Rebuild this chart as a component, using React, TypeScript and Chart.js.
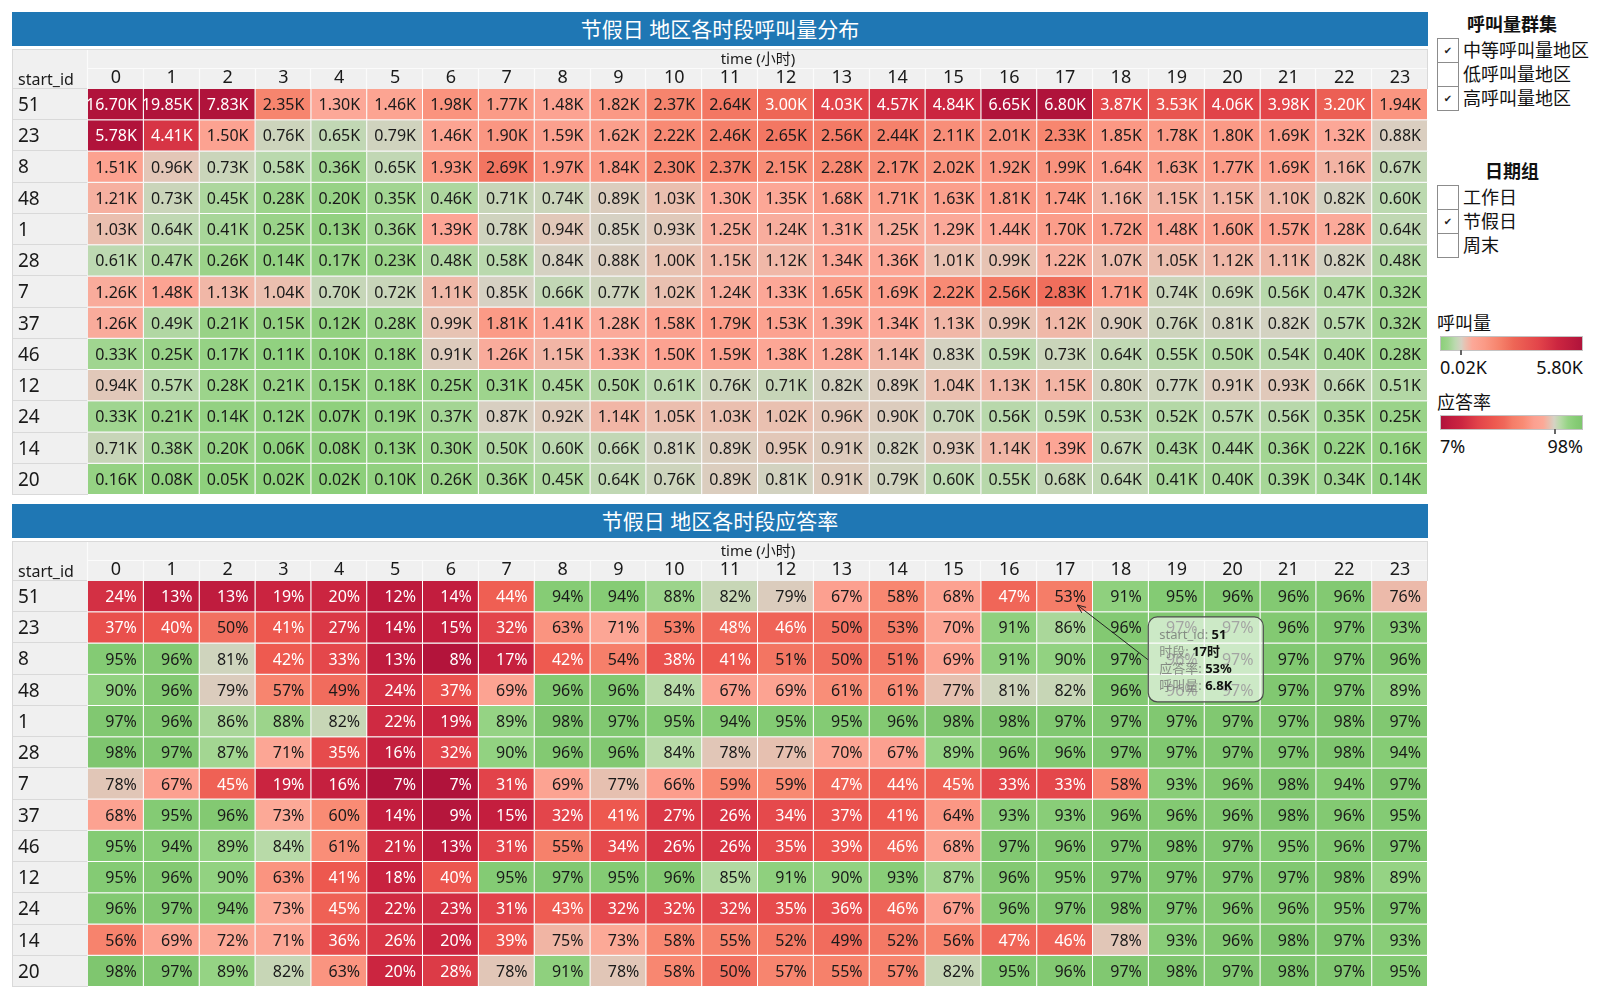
import React, { useEffect, useRef } from 'react';
import { Chart, registerables } from 'chart.js';

Chart.register(...registerables);

const FONT = "'Noto Sans', 'Noto Sans CJK SC', sans-serif";
Chart.defaults.font.family = FONT;

// ---------------- data ----------------
const rowIds = ['51', '23', '8', '48', '1', '28', '7', '37', '46', '12', '24', '14', '20'];
const hours = ['0', '1', '2', '3', '4', '5', '6', '7', '8', '9', '10', '11', '12', '13', '14', '15', '16', '17', '18', '19', '20', '21', '22', '23'];

// 呼叫量 (K)
const callVolumeK = [
  [16.70, 19.85, 7.83, 2.35, 1.30, 1.46, 1.98, 1.77, 1.48, 1.82, 2.37, 2.64, 3.00, 4.03, 4.57, 4.84, 6.65, 6.80, 3.87, 3.53, 4.06, 3.98, 3.20, 1.94],
  [5.78, 4.41, 1.50, 0.76, 0.65, 0.79, 1.46, 1.90, 1.59, 1.62, 2.22, 2.46, 2.65, 2.56, 2.44, 2.11, 2.01, 2.33, 1.85, 1.78, 1.80, 1.69, 1.32, 0.88],
  [1.51, 0.96, 0.73, 0.58, 0.36, 0.65, 1.93, 2.69, 1.97, 1.84, 2.30, 2.37, 2.15, 2.28, 2.17, 2.02, 1.92, 1.99, 1.64, 1.63, 1.77, 1.69, 1.16, 0.67],
  [1.21, 0.73, 0.45, 0.28, 0.20, 0.35, 0.46, 0.71, 0.74, 0.89, 1.03, 1.30, 1.35, 1.68, 1.71, 1.63, 1.81, 1.74, 1.16, 1.15, 1.15, 1.10, 0.82, 0.60],
  [1.03, 0.64, 0.41, 0.25, 0.13, 0.36, 1.39, 0.78, 0.94, 0.85, 0.93, 1.25, 1.24, 1.31, 1.25, 1.29, 1.44, 1.70, 1.72, 1.48, 1.60, 1.57, 1.28, 0.64],
  [0.61, 0.47, 0.26, 0.14, 0.17, 0.23, 0.48, 0.58, 0.84, 0.88, 1.00, 1.15, 1.12, 1.34, 1.36, 1.01, 0.99, 1.22, 1.07, 1.05, 1.12, 1.11, 0.82, 0.48],
  [1.26, 1.48, 1.13, 1.04, 0.70, 0.72, 1.11, 0.85, 0.66, 0.77, 1.02, 1.24, 1.33, 1.65, 1.69, 2.22, 2.56, 2.83, 1.71, 0.74, 0.69, 0.56, 0.47, 0.32],
  [1.26, 0.49, 0.21, 0.15, 0.12, 0.28, 0.99, 1.81, 1.41, 1.28, 1.58, 1.79, 1.53, 1.39, 1.34, 1.13, 0.99, 1.12, 0.90, 0.76, 0.81, 0.82, 0.57, 0.32],
  [0.33, 0.25, 0.17, 0.11, 0.10, 0.18, 0.91, 1.26, 1.15, 1.33, 1.50, 1.59, 1.38, 1.28, 1.14, 0.83, 0.59, 0.73, 0.64, 0.55, 0.50, 0.54, 0.40, 0.28],
  [0.94, 0.57, 0.28, 0.21, 0.15, 0.18, 0.25, 0.31, 0.45, 0.50, 0.61, 0.76, 0.71, 0.82, 0.89, 1.04, 1.13, 1.15, 0.80, 0.77, 0.91, 0.93, 0.66, 0.51],
  [0.33, 0.21, 0.14, 0.12, 0.07, 0.19, 0.37, 0.87, 0.92, 1.14, 1.05, 1.03, 1.02, 0.96, 0.90, 0.70, 0.56, 0.59, 0.53, 0.52, 0.57, 0.56, 0.35, 0.25],
  [0.71, 0.38, 0.20, 0.06, 0.08, 0.13, 0.30, 0.50, 0.60, 0.66, 0.81, 0.89, 0.95, 0.91, 0.82, 0.93, 1.14, 1.39, 0.67, 0.43, 0.44, 0.36, 0.22, 0.16],
  [0.16, 0.08, 0.05, 0.02, 0.02, 0.10, 0.26, 0.36, 0.45, 0.64, 0.76, 0.89, 0.81, 0.91, 0.79, 0.60, 0.55, 0.68, 0.64, 0.41, 0.40, 0.39, 0.34, 0.14],
];

// 应答率 (%)
const answerRatePct = [
  [24, 13, 13, 19, 20, 12, 14, 44, 94, 94, 88, 82, 79, 67, 58, 68, 47, 53, 91, 95, 96, 96, 96, 76],
  [37, 40, 50, 41, 27, 14, 15, 32, 63, 71, 53, 48, 46, 50, 53, 70, 91, 86, 96, 97, 97, 96, 97, 93],
  [95, 96, 81, 42, 33, 13, 8, 17, 42, 54, 38, 41, 51, 50, 51, 69, 91, 90, 97, 96, 97, 97, 97, 96],
  [90, 96, 79, 57, 49, 24, 37, 69, 96, 96, 84, 67, 69, 61, 61, 77, 81, 82, 96, 96, 97, 97, 97, 89],
  [97, 96, 86, 88, 82, 22, 19, 89, 98, 97, 95, 94, 95, 95, 96, 98, 98, 97, 97, 97, 97, 97, 98, 97],
  [98, 97, 87, 71, 35, 16, 32, 90, 96, 96, 84, 78, 77, 70, 67, 89, 96, 96, 97, 97, 97, 97, 98, 94],
  [78, 67, 45, 19, 16, 7, 7, 31, 69, 77, 66, 59, 59, 47, 44, 45, 33, 33, 58, 93, 96, 98, 94, 97],
  [68, 95, 96, 73, 60, 14, 9, 15, 32, 41, 27, 26, 34, 37, 41, 64, 93, 93, 96, 96, 96, 98, 96, 95],
  [95, 94, 89, 84, 61, 21, 13, 31, 55, 34, 26, 26, 35, 39, 46, 68, 97, 96, 97, 98, 97, 95, 96, 97],
  [95, 96, 90, 63, 41, 18, 40, 95, 97, 95, 96, 85, 91, 90, 93, 87, 96, 95, 97, 97, 97, 97, 98, 89],
  [96, 97, 94, 73, 45, 22, 23, 31, 43, 32, 32, 32, 35, 36, 46, 67, 96, 97, 98, 97, 96, 96, 95, 97],
  [56, 69, 72, 71, 36, 26, 20, 39, 75, 73, 58, 55, 52, 49, 52, 56, 47, 46, 78, 93, 96, 98, 97, 93],
  [98, 97, 89, 82, 63, 20, 28, 78, 91, 78, 58, 50, 57, 55, 57, 82, 95, 96, 97, 98, 97, 98, 97, 95],
];

const volumeRange = [0.02, 5.8];
const volumeCenter = 0.85;
const rateRange = [7, 98];
const rateCenter = 80;
const volumeLegendLabels = ['0.02K', '5.80K'];
const rateLegendLabels = ['7%', '98%'];

const volumeStops: [number, string][] = [
  [0.02, '#8ccf7a'], [0.3, '#9dd48c'], [0.6, '#bcd9b0'], [0.85, '#d6d1c3'], [1.0, '#e8c2b2'],
  [1.3, '#fca898'], [1.8, '#fb9a86'], [2.4, '#f6836c'], [3.0, '#ee6656'], [4.0, '#e3454a'],
  [4.8, '#cc2640'], [5.8, '#b0133b'],
];
const rateStops: [number, string][] = [
  [7, '#b0133b'], [14, '#c21d3e'], [20, '#cb2540'], [31, '#e2434a'], [42, '#ee5a50'], [48, '#f0685a'],
  [53, '#f57d68'], [60, '#f98b74'], [67, '#fca090'], [73, '#fca997'], [77, '#e6c0b0'], [80, '#d6d2c4'],
  [84, '#b8daa8'], [89, '#95d384'], [94, '#86cc75'], [98, '#7fc66f'],
];

const calloutRow = 0;
const calloutHour = 17;

const clusterOptions = [
  { label: '中等呼叫量地区', checked: true },
  { label: '低呼叫量地区', checked: false },
  { label: '高呼叫量地区', checked: true },
];
const dateOptions = [
  { label: '工作日', checked: false },
  { label: '节假日', checked: true },
  { label: '周末', checked: false },
];

// ---------------- helpers ----------------
function hexRgb(c: string): number[] {
  return [parseInt(c.slice(1, 3), 16), parseInt(c.slice(3, 5), 16), parseInt(c.slice(5, 7), 16)];
}
function rgbAt(v: number, stops: [number, string][]): number[] {
  if (v <= stops[0][0]) return hexRgb(stops[0][1]);
  for (let k = 1; k < stops.length; k++) {
    if (v <= stops[k][0]) {
      const a = hexRgb(stops[k - 1][1]);
      const b = hexRgb(stops[k][1]);
      const t = (v - stops[k - 1][0]) / (stops[k][0] - stops[k - 1][0]);
      return [0, 1, 2].map((i) => Math.round(a[i] + (b[i] - a[i]) * t));
    }
  }
  return hexRgb(stops[stops.length - 1][1]);
}
const css = (c: number[]) => `rgb(${c[0]},${c[1]},${c[2]})`;
const textOn = (c: number[]) => (0.299 * c[0] + 0.587 * c[1] + 0.114 * c[2] < 146 ? '#ffffff' : '#1a1a1a');
function gradientCss(stops: [number, string][], range: number[]) {
  return `linear-gradient(to right, ${stops
    .map(([s, c]) => `${c} ${(((s - range[0]) / (range[1] - range[0])) * 100).toFixed(2)}%`)
    .join(', ')})`;
}
const fmtVolume = (v: number) => `${v.toFixed(2)}K`;
const fmtRate = (v: number) => `${v}%`;

// ---------------- plugins ----------------
const framePlugin = {
  id: 'tableFrame',
  beforeDraw(chart: any) {
    const { ctx, width, height } = chart;
    ctx.save();
    ctx.fillStyle = '#f0f0f0';
    ctx.fillRect(0, 0, width, height);
    ctx.restore();
  },
  afterDraw(chart: any) {
    const { ctx, chartArea, height } = chart;
    const xs = chart.scales.x;
    const ys = chart.scales.y;
    const { left, right, top, bottom } = chartArea;
    ctx.save();
    // header inner lines
    ctx.strokeStyle = '#fbfbfb';
    ctx.lineWidth = 1.2;
    ctx.beginPath();
    ctx.moveTo(left, top - 20.5);
    ctx.lineTo(right, top - 20.5);
    ctx.moveTo(left - 0.5, 0);
    ctx.lineTo(left - 0.5, top);
    for (let j = 1; j < hours.length; j++) {
      const x = Math.round((xs.getPixelForValue(j - 1) + xs.getPixelForValue(j)) / 2) - 0.5;
      ctx.moveTo(x, top - 20);
      ctx.lineTo(x, top);
    }
    ctx.stroke();
    // row lines in label column
    ctx.strokeStyle = '#d9d9d9';
    ctx.lineWidth = 1;
    ctx.beginPath();
    for (let i = 0; i < rowIds.length; i++) {
      const y = Math.round(ys.getPixelForValue(i)) - 0.5;
      ctx.moveTo(0, y);
      ctx.lineTo(left - 1, y);
    }
    // outer border
    ctx.moveTo(0, 0.5);
    ctx.lineTo(right, 0.5);
    ctx.moveTo(0.5, 0);
    ctx.lineTo(0.5, height);
    ctx.moveTo(right - 0.5, 0);
    ctx.lineTo(right - 0.5, top);
    ctx.moveTo(0, bottom - 0.5);
    ctx.lineTo(left, bottom - 0.5);
    ctx.stroke();
    // corner label and row labels (start_id values)
    ctx.fillStyle = '#1a1a1a';
    ctx.textAlign = 'left';
    ctx.textBaseline = 'middle';
    ctx.font = `16px ${FONT}`;
    ctx.fillText('start_id', ys.left, top - 9);
    ctx.font = `19px ${FONT}`;
    rowIds.forEach((id, i) => {
      ctx.fillText(id, ys.left, ys.getPixelForValue(i + 0.5) + 1);
    });
    ctx.restore();
  },
};

function cellLabelPlugin(values: number[][], fmt: (v: number) => string, colors: number[][][]) {
  return {
    id: 'cellLabels',
    afterDatasetsDraw(chart: any) {
      const ctx = chart.ctx;
      ctx.save();
      ctx.font = `16px ${FONT}`;
      ctx.textAlign = 'right';
      ctx.textBaseline = 'middle';
      chart.data.datasets.forEach((_ds: any, i: number) => {
        const meta = chart.getDatasetMeta(i);
        meta.data.forEach((el: any, j: number) => {
          const { x, y, base, width } = el.getProps(['x', 'y', 'base', 'width'], true);
          ctx.fillStyle = textOn(colors[i][j]);
          ctx.fillText(fmt(values[i][j]), x + width / 2 - 7, (y + base) / 2 + 1);
        });
      });
      ctx.restore();
    },
  };
}

const calloutPlugin = {
  id: 'callout',
  afterDraw(chart: any) {
    const { ctx } = chart;
    const xs = chart.scales.x;
    const ys = chart.scales.y;
    const cw = xs.width / hours.length;
    const tipX = xs.getPixelForValue(calloutHour) + 0.22 * cw;
    const tipY = ys.getPixelForValue(calloutRow + 0.77);
    const bx = xs.getPixelForValue(calloutHour + 2) - 0.51 * cw;
    const by = ys.getPixelForValue(calloutRow + 1.15);
    const bw = 115;
    const bh = 85;
    const sx = bx;
    const sy = by + 43;
    ctx.save();
    // leader line with arrow
    ctx.strokeStyle = '#222';
    ctx.lineWidth = 1;
    ctx.beginPath();
    ctx.moveTo(sx, sy);
    ctx.lineTo(tipX, tipY);
    const ang = Math.atan2(tipY - sy, tipX - sx);
    const ah = 9;
    ctx.moveTo(tipX - ah * Math.cos(ang - 0.4), tipY - ah * Math.sin(ang - 0.4));
    ctx.lineTo(tipX, tipY);
    ctx.lineTo(tipX - ah * Math.cos(ang + 0.4), tipY - ah * Math.sin(ang + 0.4));
    ctx.stroke();
    // box
    ctx.beginPath();
    ctx.roundRect(bx, by, bw, bh, 9);
    ctx.fillStyle = 'rgba(255,255,255,0.6)';
    ctx.fill();
    ctx.strokeStyle = '#4d4d4d';
    ctx.lineWidth = 1.2;
    ctx.stroke();
    const lines: [string, string][] = [
      ['start_id: ', rowIds[calloutRow]],
      ['时段: ', `${hours[calloutHour]}时`],
      ['应答率: ', `${answerRatePct[calloutRow][calloutHour]}%`],
      ['呼叫量: ', `${callVolumeK[calloutRow][calloutHour].toFixed(1)}K`],
    ];
    ctx.textAlign = 'left';
    ctx.textBaseline = 'middle';
    lines.forEach(([lab, val], k) => {
      const ty = by + 18 + k * 17;
      ctx.font = `13px ${FONT}`;
      ctx.fillStyle = 'rgba(110,110,110,0.75)';
      ctx.fillText(lab, bx + 11, ty);
      const w = ctx.measureText(lab).width;
      ctx.font = `bold 13px ${FONT}`;
      ctx.fillStyle = '#111';
      ctx.fillText(val, bx + 11 + w, ty);
    });
    ctx.restore();
  },
};

function buildConfig(values: number[][], stops: [number, string][], fmt: (v: number) => string, withCallout: boolean): any {
  const colors = values.map((row) => row.map((v) => rgbAt(v, stops)));
  const datasets = rowIds.map((id, i) => ({
    label: id,
    data: hours.map(() => [i, i + 1]),
    backgroundColor: colors[i].map(css),
    borderColor: '#ffffff',
    borderWidth: { top: 0, left: 0, right: 1, bottom: 1 },
    borderSkipped: false,
    grouped: false,
    barPercentage: 1,
    categoryPercentage: 1,
    inflateAmount: 0,
  }));
  const plugins: any[] = [framePlugin, cellLabelPlugin(values, fmt, colors)];
  if (withCallout) plugins.push(calloutPlugin);
  return {
    type: 'bar',
    data: { labels: hours, datasets },
    options: {
      responsive: true,
      maintainAspectRatio: false,
      animation: false,
      events: [],
      layout: { padding: { left: 6, right: 0, top: 0, bottom: 0 } },
      plugins: { legend: { display: false }, tooltip: { enabled: false }, title: { display: false } },
      scales: {
        x: {
          type: 'category',
          position: 'top',
          offset: true,
          grid: { display: false, drawTicks: false },
          border: { display: false },
          ticks: { font: { size: 18 }, color: '#1a1a1a', padding: 0, maxRotation: 0, autoSkip: false },
          title: { display: true, text: 'time (小时)', font: { size: 15 }, color: '#1a1a1a', padding: { top: 2, bottom: 0 } },
          afterFit: (axis: any) => {
            axis.height = 40;
          },
        },
        y: {
          type: 'linear',
          min: 0,
          max: rowIds.length,
          reverse: true,
          grid: { display: false, drawTicks: false },
          border: { display: false },
          ticks: { display: false },
          afterFit: (axis: any) => {
            axis.width = 70;
          },
        },
      },
    },
    plugins,
  };
}

// ---------------- components ----------------
function Heatmap(props: { top: number; values: number[][]; stops: [number, string][]; fmt: (v: number) => string; withCallout: boolean }) {
  const ref = useRef<HTMLCanvasElement | null>(null);
  useEffect(() => {
    if (!ref.current) return;
    const chart = new Chart(ref.current, buildConfig(props.values, props.stops, props.fmt, props.withCallout));
    return () => chart.destroy();
  }, []);
  return (
    <div style={{ position: 'absolute', left: 12, top: props.top, width: 1416, height: 446 }}>
      <canvas ref={ref} />
    </div>
  );
}

function TitleBar(props: { top: number; text: string }) {
  return (
    <div
      style={{
        position: 'absolute',
        left: 12,
        top: props.top,
        width: 1416,
        height: 34,
        background: '#1f77b4',
        color: '#fff',
        fontSize: 21,
        lineHeight: '34px',
        textAlign: 'center',
      }}
    >
      {props.text}
    </div>
  );
}

function CheckList(props: { top: number; title: string; items: { label: string; checked: boolean }[] }) {
  return (
    <>
      <div style={{ position: 'absolute', left: 1437, width: 150, top: props.top - 26, height: 24, lineHeight: '24px', textAlign: 'center', fontWeight: 'bold', fontSize: 18, color: '#111' }}>
        {props.title}
      </div>
      {props.items.map((it, k) => (
        <React.Fragment key={it.label}>
          <div
            style={{
              position: 'absolute',
              left: 1437,
              top: props.top + k * 24,
              width: 22,
              height: 25,
              boxSizing: 'border-box',
              border: '1px solid #8c8c8c',
              background: '#fff',
              display: 'flex',
              alignItems: 'center',
              justifyContent: 'center',
              fontSize: 10,
              color: '#222',
              fontFamily: "'DejaVu Sans', sans-serif",
            }}
          >
            {it.checked ? '✔' : ''}
          </div>
          <div style={{ position: 'absolute', left: 1463, top: props.top + k * 24, height: 24, lineHeight: '24px', fontSize: 18, color: '#111', whiteSpace: 'nowrap' }}>
            {it.label}
          </div>
        </React.Fragment>
      ))}
    </>
  );
}

function ColorLegend(props: { top: number; title: string; stops: [number, string][]; range: number[]; center: number; labels: string[] }) {
  const tickX = 1440 + ((props.center - props.range[0]) / (props.range[1] - props.range[0])) * 143;
  return (
    <>
      <div style={{ position: 'absolute', left: 1437, top: props.top, height: 24, lineHeight: '24px', fontSize: 18, color: '#111' }}>{props.title}</div>
      <div
        style={{
          position: 'absolute',
          left: 1440,
          top: props.top + 25,
          width: 143,
          height: 15,
          boxSizing: 'border-box',
          border: '1px solid #c4c4c4',
          background: gradientCss(props.stops, props.range),
        }}
      />
      <div style={{ position: 'absolute', left: tickX - 1, top: props.top + 39, width: 2, height: 5, background: '#666' }} />
      <div style={{ position: 'absolute', left: 1440, top: props.top + 44, height: 24, lineHeight: '24px', fontSize: 18, color: '#111' }}>{props.labels[0]}</div>
      <div style={{ position: 'absolute', left: 1440, width: 143, top: props.top + 44, height: 24, lineHeight: '24px', fontSize: 18, color: '#111', textAlign: 'right' }}>{props.labels[1]}</div>
    </>
  );
}

export default function App() {
  return (
    <div style={{ position: 'absolute', left: 0, top: 0, width: 1600, height: 1000, background: '#fff', fontFamily: FONT, overflow: 'hidden' }}>
      <TitleBar top={12} text="节假日 地区各时段呼叫量分布" />
      <Heatmap top={49} values={callVolumeK} stops={volumeStops} fmt={fmtVolume} withCallout={false} />
      <TitleBar top={504} text="节假日 地区各时段应答率" />
      <Heatmap top={541} values={answerRatePct} stops={rateStops} fmt={fmtRate} withCallout={true} />
      <CheckList top={38} title="呼叫量群集" items={clusterOptions} />
      <CheckList top={185} title="日期组" items={dateOptions} />
      <ColorLegend top={311} title="呼叫量" stops={volumeStops} range={volumeRange} center={volumeCenter} labels={volumeLegendLabels} />
      <ColorLegend top={390} title="应答率" stops={rateStops} range={rateRange} center={rateCenter} labels={rateLegendLabels} />
    </div>
  );
}
